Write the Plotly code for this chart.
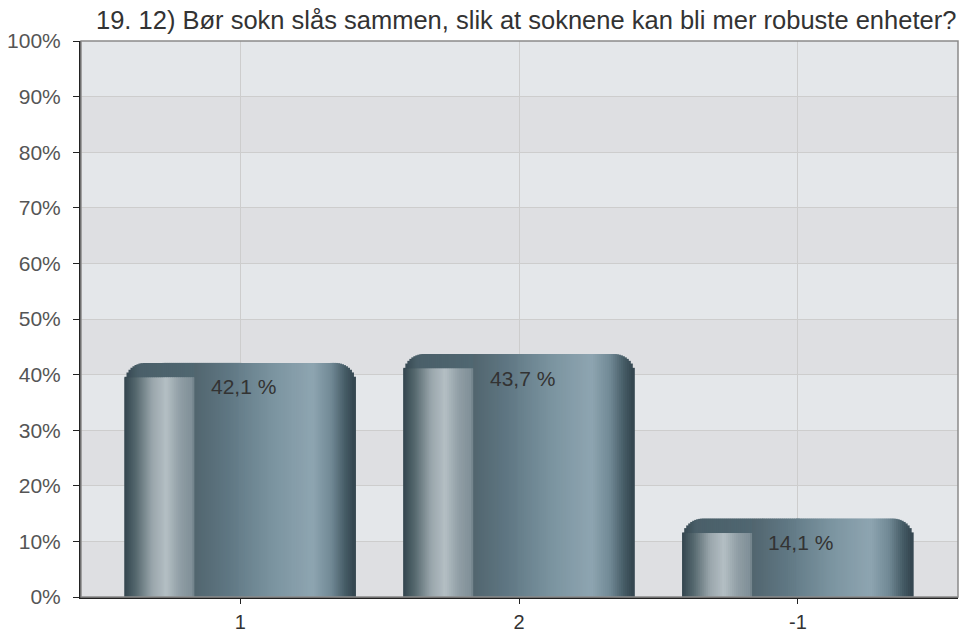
import plotly.graph_objects as go

# Data
categories = ["1", "2", "-1"]
values = [42.1, 43.7, 14.1]
y_ticks = list(range(0, 101, 10))
y_ticktext = [f"{t}%" for t in y_ticks]
title_text = "19. 12) Bør sokn slås sammen, slik at soknene kan bli mer robuste enheter?"

# bar look: horizontal gradient stops (fraction of bar width -> colour)
body_stops = [
    (0.00, "#33454e"), (0.05, "#56696f"), (0.12, "#9aa6ac"), (0.18, "#b4bfc4"),
    (0.24, "#909ea5"), (0.295, "#7f8f97"), (0.305, "#52666f"), (0.45, "#5f7783"),
    (0.65, "#7b94a0"), (0.82, "#8ea5b1"), (0.90, "#718995"), (0.96, "#465c66"),
    (1.00, "#33454e"),
]
band_stops = [(0.00, "#33454e"), (0.06, "#4a5f69"), (0.30, "#506771")]

BAR_W = 0.83      # bar width in category units
N_STRIPS = 116
RX = 0.072        # corner radius, x (category units)
RY = 3.6          # corner radius, y (%)
BAND_H = 2.6      # dark top band over the highlight (%)
BAND_END = 0.30


def hex_rgb(h):
    h = h.lstrip("#")
    return tuple(int(h[i:i + 2], 16) for i in (0, 2, 4))


def interp(stops, f):
    for (f0, c0), (f1, c1) in zip(stops, stops[1:]):
        if f0 <= f <= f1:
            t = 0 if f1 == f0 else (f - f0) / (f1 - f0)
            a, b = hex_rgb(c0), hex_rgb(c1)
            return "rgb(%d,%d,%d)" % tuple(round(a[k] + (b[k] - a[k]) * t) for k in range(3))
    return stops[-1][1]


def corner_drop(d):
    # how much lower the top is at distance d from the bar edge (rounded corner)
    if d >= RX:
        return 0.0
    u = (RX - d) / RX
    return RY * (1 - (1 - u * u) ** 0.5)


def strip_geom(i):
    sw = BAR_W / N_STRIPS
    off = -BAR_W / 2 + i * sw
    f = (i + 0.5) / N_STRIPS
    # overlap neighbours a little so no seams show; overlap towards the centre
    if f < 0.5:
        return f, off, sw * 1.8
    return f, off - sw * 0.8, sw * 1.8


fig = go.Figure()
xpos = list(range(len(categories)))

# dark top band over the highlighted left part
for i in range(N_STRIPS):
    f, off, w = strip_geom(i)
    if f >= BAND_END:
        continue
    drop = corner_drop(f * BAR_W)
    fig.add_trace(go.Bar(
        x=xpos, y=[v - drop for v in values], width=w, offset=off,
        marker=dict(color=interp(band_stops, f), line=dict(width=0)),
        hoverinfo="skip", showlegend=False))

# gradient body
for i in range(N_STRIPS):
    f, off, w = strip_geom(i)
    drop = corner_drop(min(f, 1 - f) * BAR_W)
    if f < BAND_END:
        ys = [v - max(drop, BAND_H) for v in values]
    else:
        ys = [v - drop for v in values]
    fig.add_trace(go.Bar(
        x=xpos, y=ys, width=w, offset=off,
        marker=dict(color=interp(body_stops, f), line=dict(width=0)),
        hoverinfo="skip", showlegend=False))

for xp, v in zip(xpos, values):
    fig.add_annotation(x=xp, y=v, text=f"{v:.1f} %".replace(".", ","), showarrow=False,
                       yshift=-24, xshift=3, font=dict(size=21, color="#333333"))

# title, right aligned to the plot edge
fig.add_annotation(text=title_text, x=1, xref="paper", xanchor="right",
                   y=1, yref="paper", yanchor="middle", yshift=21, showarrow=False,
                   font=dict(size=25.5, color="#333333"))

# alternating background bands
for lo in range(0, 100, 20):
    fig.add_shape(type="rect", xref="paper", yref="y", x0=0, x1=1, y0=lo, y1=lo + 10,
                  fillcolor="#dedfe2", line=dict(width=0), layer="below")
# frame (top / right)
fig.add_shape(type="rect", xref="paper", yref="paper", x0=0, x1=1, y0=0, y1=1,
              line=dict(color="#8a8a8a", width=1.5), layer="above")

fig.update_layout(
    width=964, height=632,
    margin=dict(l=81, r=6, t=41, b=35),
    barmode="overlay",
    paper_bgcolor="white",
    plot_bgcolor="#e4e7ea",
    font=dict(family="Liberation Sans, Arial, sans-serif", size=20, color="#555555"),
    xaxis=dict(type="linear", tickvals=xpos, ticktext=categories,
               showgrid=True, gridcolor="#cdcdcd", gridwidth=1,
               showline=True, linecolor="#222222", linewidth=2,
               ticks="outside", ticklen=5, tickcolor="#222222",
               ticklabelstandoff=1, automargin=False,
               tickfont=dict(size=20, color="#333333"),
               range=[-0.571, 2.574], zeroline=False),
    yaxis=dict(range=[0, 100], tickvals=y_ticks, ticktext=y_ticktext,
               showgrid=True, gridcolor="#cdcdcd", gridwidth=1,
               showline=True, linecolor="#222222", linewidth=2,
               ticks="outside", ticklen=6, tickcolor="#222222",
               ticklabelstandoff=8, automargin=False,
               zeroline=False, tickfont=dict(size=21, color="#555555")),
    showlegend=False,
)

# the page's default body margin would shift the figure by 8px
fig.write_html("out.html", config={"displayModeBar": False},
               post_script="document.body.style.margin='0';document.body.style.overflow='hidden';")
